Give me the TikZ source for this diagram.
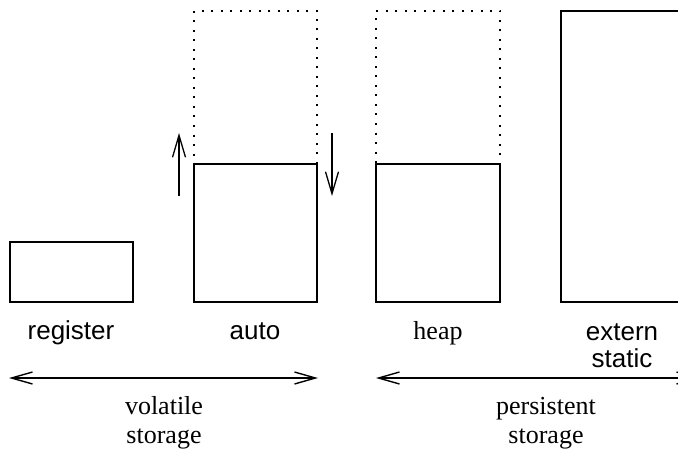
\documentclass[tikz,border=0pt]{standalone}
\usepackage{fontspec}
\setmainfont{Liberation Serif}
\newfontfamily\helv{Liberation Sans}
\usetikzlibrary{arrows.meta}
\tikzset{
  x=1pt, y=-1pt,
  box/.style={draw, line width=1.3pt, inner sep=0pt, outer sep=0pt, anchor=north west},
  sparearea/.style={draw, line width=2pt, dash pattern=on 2pt off 7.5pt, inner sep=0pt, outer sep=0pt, anchor=north west},
  growarrow/.style={line width=1.5pt, -{Straight Barb[length=22pt, width=13pt, line width=1.3pt]}},
  spanarrow/.style={line width=1.7pt, {Straight Barb[length=21pt, width=12pt, line width=1.4pt]}-{Straight Barb[length=21pt, width=12pt, line width=1.4pt]}},
  sanslabel/.style={font=\helv\fontsize{26}{27}\selectfont, align=center, inner sep=0pt},
  seriflabel/.style={font=\fontsize{26}{29}\selectfont, align=center, inner sep=0pt}
}
\begin{document}
\begin{tikzpicture}
  \useasboundingbox (0,0) rectangle (678,452);
  \clip (0,0) rectangle (678,452);

  % storage areas
  \node[box, minimum width=123pt, minimum height=60pt] (reg) at (10,242) {};
  \node[sparearea, minimum width=123pt, minimum height=153pt] (autospare) at (194,11) {};
  \node[box, minimum width=123pt, minimum height=138pt] (auto) at (194,164) {};
  \node[sparearea, minimum width=124pt, minimum height=153pt] (heapspare) at (376,11) {};
  \node[box, minimum width=124pt, minimum height=138pt] (heap) at (376,164) {};
  \node[box, minimum width=130pt, minimum height=291pt] (ext) at (561,11) {};

  % stack growth
  \coordinate (upfrom) at (179,196);
  \coordinate (upto) at (179,133);
  \coordinate (downfrom) at (332,133);
  \coordinate (downto) at (332,196);
  \draw[growarrow] (upfrom) -- (upto);
  \draw[growarrow] (downfrom) -- (downto);

  % labels (multi-line nodes sit on the baseline of their last line)
  \node[sanslabel, anchor=base] (lreg) at (71,339) {register};
  \node[sanslabel, anchor=base] (lauto) at (255,339) {auto};
  \node[seriflabel, anchor=base] (lheap) at (438,339) {heap};
  \node[sanslabel, anchor=base] (lext) at (622,367) {extern\\static};

  % lifetime spans
  \coordinate (vl) at (9,378);
  \coordinate (vr) at (318,378);
  \coordinate (pl) at (376,378);
  \coordinate (pr) at (700,378);
  \draw[spanarrow] (vl) -- (vr);
  \draw[spanarrow] (pl) -- (pr);

  \node[seriflabel, anchor=base] (lvol) at (164,443) {volatile\\storage};
  \node[seriflabel, anchor=base] (lper) at (546,443) {persistent\\storage};
\end{tikzpicture}
\end{document}
